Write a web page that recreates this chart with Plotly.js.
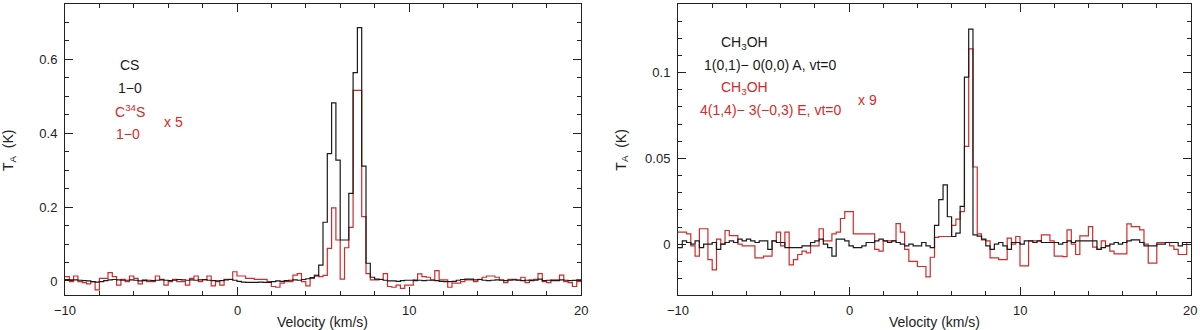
<!DOCTYPE html>
<html>
<head>
<meta charset="utf-8">
<script src="https://cdn.plot.ly/plotly-3.0.1.min.js"></script>
<style>
  html, body { margin: 0; padding: 0; background: #fff; overflow: hidden; }
  #myDiv { width: 1200px; height: 330px; }
</style>
</head>
<body>
<div id="myDiv"></div>
<script>
// spectra on a 0.25 km/s channel grid from -10 to 20 km/s
var vStart = -10;
var dv = 0.25;
var velRange = [-10, 20];
var velTicks = [-10, 0, 10, 20];

// left panel: CS 1-0 (black) and C34S 1-0 x5 (red), T_A in K
var csVals = [
  0.004, 0.003, 0.003, 0.002, 0.001, 0.000, -0.002, -0.003, -0.002, 0.001,
  0.003, 0.004, 0.003, 0.002, 0.002, 0.003, 0.002, 0.000, 0.001, 0.002,
  0.001, 0.002, 0.003, 0.002, 0.001, 0.002, 0.004, 0.003, 0.002, 0.003,
  0.002, 0.003, 0.004, 0.002, 0.001, 0.000, 0.001, 0.003, 0.004, 0.002,
  -0.001, -0.003, -0.004, -0.004, -0.004, -0.003, -0.004, -0.004, -0.002, 0.000,
  -0.001, 0.001, 0.002, 0.003, 0.002, 0.004, 0.006, 0.009, 0.014, 0.043,
  0.159, 0.345, 0.482, 0.327, 0.111, 0.111, 0.237, 0.564, 0.686, 0.311,
  0.048, 0.010, 0.005, 0.004, 0.002, 0.000, 0.000, -0.001, 0.001, 0.002,
  0.002, 0.001, 0.002, 0.001, 0.002, 0.002, 0.001, -0.001, -0.002, -0.002,
  -0.001, 0.002, 0.004, 0.005, 0.005, 0.003, 0.004, 0.002, 0.001, 0.002,
  0.003, 0.002, 0.001, 0.002, 0.003, 0.002, 0.001, 0.002, 0.001, 0.002,
  0.005, 0.001, 0.002, 0.001, 0.001, 0.003, 0.002, 0.001, 0.002, 0.003
];
var c34sVals = [
  0.012, -0.002, 0.0135, -0.002, -0.0045, -0.008, -0.002, -0.024, 0.007, 0.007,
  0.0225, 0.012, -0.011, 0.0045, -0.002, 0.0135, 0.007, -0.008, 0.003, -0.002,
  -0.002, 0.0135, 0.0045, -0.011, -0.002, 0.0045, -0.002, -0.002, -0.011, 0.007,
  0.0135, -0.002, 0.003, 0.0135, -0.0135, -0.002, -0.011, 0.0045, 0.0045, 0.025,
  0.0135, 0.0135, 0.007, 0.007, 0.0045, 0.0045, 0.0045, -0.002, -0.015, -0.017,
  -0.006, -0.002, -0.002, 0.016, 0.02, -0.002, -0.0135, 0.007, 0.016, 0.012,
  0.015, 0.088, 0.198, 0.111, 0.005, 0.09, 0.145, 0.516, 0.516, 0.174,
  0.02, 0.003, 0.003, 0.0045, 0.02, -0.015, -0.017, -0.011, -0.02, -0.011,
  -0.011, 0.003, 0.019, 0.012, 0.01, 0.003, 0.028, 0.003, 0.003, -0.017,
  -0.006, -0.006, -0.002, 0.003, 0.003, -0.002, 0.0045, 0.01, 0.0135, 0.0135,
  0.01, 0.003, -0.0045, 0.0045, 0.0045, 0.003, 0.01, -0.0045, 0.003, 0.0045,
  0.02, -0.002, -0.0045, 0.003, 0.003, 0.016, -0.002, -0.0045, -0.015, -0.002
];

// right panel: CH3OH A (black) and CH3OH E x9 (red)
var ch3ohAVals = [
  -0.002, 0.002, 0.001, 0.000, 0.002, -0.002, 0.000, 0.000, 0.001, -0.003,
  0.000, 0.001, 0.002, 0.001, 0.003, 0.002, 0.003, 0.002, 0.001, 0.002,
  0.002, -0.003, 0.002, 0.001, 0.001, -0.002, -0.002, -0.002, -0.002, -0.001,
  -0.001, 0.001, 0.002, 0.003, 0.000, -0.002, -0.007, 0.003, 0.003, 0.002,
  -0.001, -0.002, -0.002, -0.001, 0.001, 0.001, 0.002, 0.003, 0.002, 0.001,
  0.002, 0.001, 0.000, -0.001, 0.000, -0.001, -0.001, 0.001, -0.001, -0.002,
  0.011, 0.026, 0.0346, 0.016, 0.0045, 0.0065, 0.022, 0.0974, 0.1254, 0.0054,
  0.0047, 0.003, -0.001, -0.003, 0.000, 0.001, -0.001, -0.003, 0.001, 0.001,
  0.000, 0.002, 0.002, 0.001, 0.002, 0.001, 0.001, 0.001, 0.001, 0.000,
  0.001, 0.002, 0.001, 0.002, 0.002, 0.002, 0.002, 0.002, -0.003, -0.002,
  -0.001, 0.000, 0.001, 0.000, 0.001, 0.002, 0.0025, 0.0025, 0.001, -0.001,
  -0.001, -0.001, 0.000, 0.000, 0.001, 0.001, 0.001, -0.001, 0.001, 0.001
];
var ch3ohEVals = [
  0.007, 0.007, 0.006, -0.001, -0.007, 0.009, 0.009, -0.009, -0.015, 0.003,
  0.000, 0.008, 0.005, 0.005, 0.000, -0.001, -0.001, -0.001, -0.008, -0.008,
  -0.007, -0.007, 0.002, 0.007, -0.001, 0.007, -0.012, -0.009, -0.006, -0.004,
  -0.005, -0.001, -0.001, 0.009, 0.002, 0.002, 0.006, 0.007, 0.015, 0.019,
  0.019, 0.006, 0.006, 0.006, 0.006, 0.006, -0.003, -0.004, 0.002, 0.002,
  0.002, 0.012, 0.007, -0.003, -0.010, -0.010, -0.013, -0.013, -0.019, -0.0076,
  0.004, 0.0045, 0.0045, 0.0045, 0.011, 0.0146, 0.019, 0.057, 0.1138, 0.045,
  0.006, 0.0025, 0.002, -0.008, -0.008, -0.009, -0.009, 0.0035, 0.000, 0.0045,
  -0.0126, -0.0126, 0.002, 0.002, 0.002, 0.0054, 0.0054, 0.002, -0.007, -0.007,
  -0.0072, 0.0084, 0.000, -0.006, 0.0049, 0.0049, 0.0103, -0.0017, -0.003, 0.002,
  -0.001, -0.004, -0.0056, -0.0056, -0.0056, 0.0119, 0.0103, 0.0103, 0.0084, 0.000,
  -0.011, -0.011, 0.001, 0.001, 0.001, -0.001, -0.003, -0.006, -0.006, 0.001
];

var blackCol = '#1a1a1a';
var redCol = '#d42a2a';

// channel left edges plus the closing edge, for 'hv' steps
function edges(n) {
  var e = [];
  for (var i = 0; i <= n; i++) e.push(vStart + i * dv);
  return e;
}
function stepTrace(vals, col, xa, ya) {
  return {
    x: edges(vals.length),
    y: vals.concat([vals[vals.length - 1]]),
    type: 'scatter',
    mode: 'lines',
    line: {shape: 'hv', color: col, width: 1.2},
    xaxis: xa,
    yaxis: ya,
    hoverinfo: 'skip'
  };
}

var data = [
  stepTrace(c34sVals, redCol, 'x', 'y'),
  stepTrace(csVals, blackCol, 'x', 'y'),
  stepTrace(ch3ohEVals, redCol, 'x2', 'y2'),
  stepTrace(ch3ohAVals, blackCol, 'x2', 'y2')
];

function xAx(dom, anchor) {
  return {
    domain: dom, anchor: anchor, range: velRange,
    tickmode: 'array', tickvals: velTicks, showticklabels: false,
    ticks: 'inside', ticklen: 8, tickwidth: 1, tickcolor: '#222',
    minor: {ticks: 'inside', dtick: 2, tick0: 0, ticklen: 4, tickwidth: 1, tickcolor: '#222', showgrid: false},
    mirror: 'allticks', showline: true, linecolor: '#222', linewidth: 1,
    showgrid: false, zeroline: false
  };
}
function yAx(rng, dt, mdt, anchor) {
  return {
    domain: [0, 1], anchor: anchor, range: rng,
    tick0: 0, dtick: dt, ticks: 'inside', ticklen: 8, tickwidth: 1, tickcolor: '#222',
    minor: {ticks: 'inside', dtick: mdt, ticklen: 4, tickwidth: 1, tickcolor: '#222', showgrid: false},
    mirror: 'allticks', showline: true, linecolor: '#222', linewidth: 1,
    showgrid: false, zeroline: false, ticklabelstandoff: 4,
    tickfont: {size: 13, color: '#222'}
  };
}

function note(text, x, y, col, angle) {
  return {
    text: text, x: x, y: y, xref: 'paper', yref: 'paper',
    xanchor: 'center', yanchor: 'middle', showarrow: false,
    textangle: angle || 0,
    font: {size: 14, color: col}
  };
}

var layout = {
  width: 1200,
  height: 330,
  margin: {l: 0, r: 0, t: 4, b: 35},
  paper_bgcolor: '#fff',
  plot_bgcolor: '#fff',
  showlegend: false,
  font: {family: 'Liberation Sans, Arial, sans-serif', color: '#222'},
  xaxis: xAx([65 / 1200, 581 / 1200], 'y'),
  yaxis: yAx([-0.038, 0.75], 0.2, 0.05, 'x'),
  xaxis2: xAx([678 / 1200, 1191 / 1200], 'y2'),
  yaxis2: yAx([-0.0296, 0.140], 0.05, 0.01, 'x2')
};

var annotations = [
  note('CS', 0.1083, 0.790, blackCol),
  note('1\u22120', 0.1083, 0.711, blackCol),
  note('C<sup>34</sup>S', 0.1083, 0.632, redCol),
  note('1\u22120', 0.1067, 0.553, redCol),
  note('x 5', 0.1442, 0.594, redCol),
  note('CH<sub>3</sub>OH', 0.620, 0.866, blackCol),
  note('1(0,1)\u2212 0(0,0) A, vt=0', 0.6417, 0.790, blackCol),
  note('CH<sub>3</sub>OH', 0.620, 0.711, redCol),
  note('4(1,4)\u2212 3(\u22120,3) E, vt=0', 0.6417, 0.636, redCol),
  note('x 9', 0.7233, 0.670, redCol),
  note('Velocity (km/s)', 0.269, -0.093, '#222'),
  note('Velocity (km/s)', 0.779, -0.093, '#222'),
  note('T<sub>A</sub>  (K)', 0.0075, 0.498, '#222', -90),
  note('T<sub>A</sub>  (K)', 0.518, 0.498, '#222', -90)
];

// velocity tick labels under each x axis; the very last one is
// right-aligned so it stays inside the window
[layout.xaxis, layout.xaxis2].forEach(function (ax, k) {
  velTicks.forEach(function (v, j) {
    var f = (v - ax.range[0]) / (ax.range[1] - ax.range[0]);
    var isEdge = (k === 1 && j === velTicks.length - 1);
    annotations.push({
      text: String(v).replace('-', '\u2212'),
      x: isEdge ? 0.999 : ax.domain[0] + f * (ax.domain[1] - ax.domain[0]),
      xref: 'paper', y: -0.052, yref: 'paper',
      xanchor: isEdge ? 'right' : 'center', yanchor: 'middle', showarrow: false,
      font: {size: 13, color: '#222'}
    });
  });
});
layout.annotations = annotations;

Plotly.newPlot('myDiv', data, layout, {staticPlot: true});
</script>
</body>
</html>
